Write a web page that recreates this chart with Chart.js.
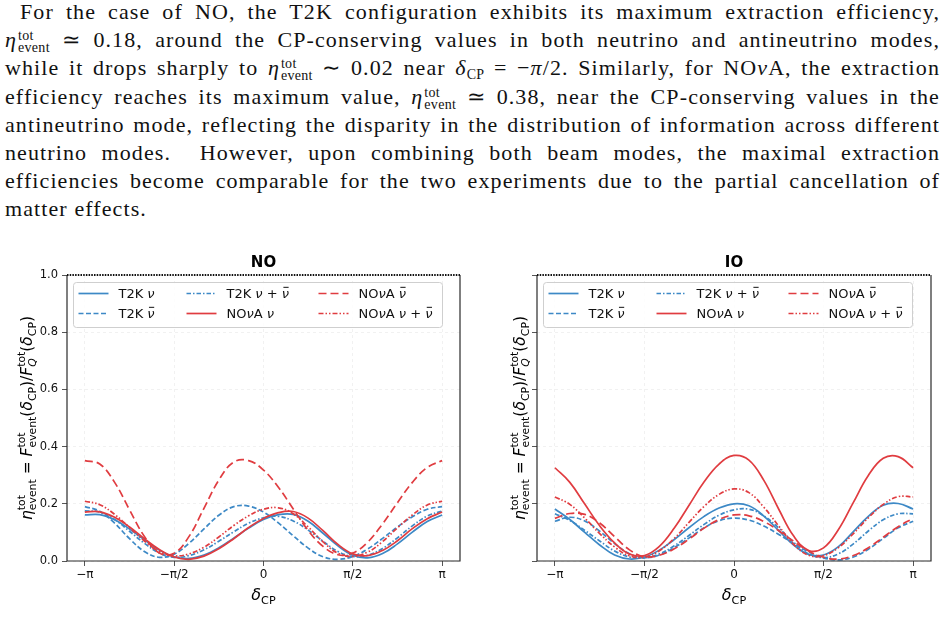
<!DOCTYPE html>
<html>
<head>
<meta charset="utf-8">
<script src="https://cdn.jsdelivr.net/npm/chart.js@4.4.0/dist/chart.umd.min.js"></script>
<style>
  html, body { margin: 0; padding: 0; background: #fff; }
  body { width: 945px; height: 642px; position: relative; overflow: hidden; }
  .tl {
    position: absolute; left: 5px; width: 935px; height: 28px; line-height: 28px;
    font-family: "Liberation Serif", serif; font-size: 22px; letter-spacing: 1.1px; color: #111;
    text-align: justify; text-align-last: justify;
  }
  .tl.first { left: 20px; width: 920px; }
  .tl.last { text-align-last: left; }
  .ss { display: inline-flex; flex-direction: column; font-size: 14px; letter-spacing: 0.3px; line-height: 12px; vertical-align: 7px; margin-left: 1px; }
  .sb { font-size: 14px; vertical-align: -4px; letter-spacing: 0.3px; }
  .panel { position: absolute; top: 240px; }
</style>
</head>
<body>

<div class="tl first" style="top:-2px">For the case of NO, the T2K configuration exhibits its maximum extraction efficiency,</div>
<div class="tl" style="top:26px"><i>η</i><span class="ss"><span>tot</span><span>event</span></span> ≃ 0.18, around the CP-conserving values in both neutrino and antineutrino modes,</div>
<div class="tl" style="top:54px">while it drops sharply to <i>η</i><span class="ss"><span>tot</span><span>event</span></span> ∼ 0.02 near <i>δ</i><span class="sb">CP</span> = −<i>π</i>/2. Similarly, for NO<i>ν</i>A, the extraction</div>
<div class="tl" style="top:83px">efficiency reaches its maximum value, <i>η</i><span class="ss"><span>tot</span><span>event</span></span> ≃ 0.38, near the CP-conserving values in the</div>
<div class="tl" style="top:111px">antineutrino mode, reflecting the disparity in the distribution of information across different</div>
<div class="tl" style="top:139px">neutrino modes. &nbsp;However, upon combining both beam modes, the maximal extraction</div>
<div class="tl" style="top:167px">efficiencies become comparable for the two experiments due to the partial cancellation of</div>
<div class="tl last" style="top:195px">matter effects.</div>

<div class="panel" style="left:0px"><canvas id="chart-no" width="472" height="372"></canvas></div>
<div class="panel" style="left:472px"><canvas id="chart-io" width="473" height="372"></canvas></div>

<script>
// delta_CP sample points (degrees)
const deltaDeg = [-180, -165, -150, -135, -120, -105, -90, -75, -60, -45, -30, -15, 0,
                  15, 30, 45, 60, 75, 90, 105, 120, 135, 150, 165, 180];

const xTicks = [-Math.PI, -Math.PI / 2, 0, Math.PI / 2, Math.PI];
const xTickLabels = ['−π', '−π/2', '0', 'π/2', 'π'];
const yTicks = [0, 0.2, 0.4, 0.6, 0.8, 1.0];

// NO
const no_t2k_nu     = [0.161, 0.162, 0.144, 0.112, 0.074, 0.038, 0.015, 0.009, 0.021, 0.046, 0.080, 0.115, 0.145,
                       0.162, 0.163, 0.139, 0.097, 0.053, 0.020, 0.011, 0.026, 0.060, 0.101, 0.138, 0.161];
const no_t2k_nubar  = [0.190, 0.174, 0.132, 0.078, 0.033, 0.013, 0.024, 0.062, 0.112, 0.160, 0.190, 0.192, 0.171,
                       0.133, 0.088, 0.045, 0.015, 0.006, 0.016, 0.042, 0.079, 0.119, 0.155, 0.181, 0.190];
const no_t2k_both   = [0.175, 0.171, 0.145, 0.104, 0.062, 0.028, 0.013, 0.019, 0.039, 0.069, 0.102, 0.132, 0.151,
                       0.156, 0.140, 0.108, 0.069, 0.033, 0.016, 0.020, 0.044, 0.081, 0.123, 0.157, 0.175];
const no_nova_nu    = [0.171, 0.172, 0.153, 0.119, 0.078, 0.040, 0.014, 0.006, 0.017, 0.043, 0.078, 0.117, 0.149,
                       0.169, 0.173, 0.150, 0.106, 0.058, 0.025, 0.019, 0.037, 0.071, 0.113, 0.148, 0.171];
const no_nova_nubar = [0.351, 0.339, 0.275, 0.179, 0.086, 0.028, 0.027, 0.086, 0.184, 0.283, 0.346, 0.351, 0.318,
                       0.258, 0.182, 0.107, 0.051, 0.022, 0.028, 0.066, 0.130, 0.204, 0.275, 0.327, 0.351];
const no_nova_both  = [0.209, 0.197, 0.163, 0.117, 0.070, 0.033, 0.018, 0.025, 0.048, 0.084, 0.124, 0.158, 0.181,
                       0.186, 0.165, 0.119, 0.067, 0.027, 0.016, 0.031, 0.068, 0.116, 0.161, 0.196, 0.209];

// IO
const io_t2k_nu     = [0.182, 0.145, 0.100, 0.056, 0.021, 0.007, 0.014, 0.038, 0.075, 0.117, 0.156, 0.185, 0.200,
                       0.193, 0.157, 0.106, 0.056, 0.023, 0.021, 0.050, 0.103, 0.156, 0.195, 0.201, 0.182];
const io_t2k_nubar  = [0.139, 0.153, 0.140, 0.104, 0.061, 0.025, 0.012, 0.021, 0.047, 0.081, 0.116, 0.141, 0.150,
                       0.143, 0.122, 0.093, 0.061, 0.032, 0.011, 0.004, 0.014, 0.041, 0.079, 0.116, 0.139];
const io_t2k_both   = [0.165, 0.142, 0.107, 0.070, 0.035, 0.014, 0.011, 0.025, 0.053, 0.090, 0.128, 0.160, 0.179,
                       0.181, 0.158, 0.115, 0.065, 0.025, 0.012, 0.025, 0.060, 0.105, 0.144, 0.165, 0.165];
const io_nova_nu    = [0.326, 0.275, 0.199, 0.123, 0.063, 0.024, 0.019, 0.051, 0.115, 0.196, 0.277, 0.339, 0.369,
                       0.353, 0.282, 0.181, 0.087, 0.037, 0.046, 0.110, 0.205, 0.299, 0.359, 0.365, 0.326];
const io_nova_nubar = [0.149, 0.166, 0.163, 0.133, 0.085, 0.039, 0.015, 0.020, 0.043, 0.077, 0.115, 0.145, 0.161,
                       0.158, 0.138, 0.106, 0.069, 0.035, 0.013, 0.007, 0.019, 0.046, 0.083, 0.120, 0.149];
const io_nova_both  = [0.224, 0.198, 0.150, 0.096, 0.049, 0.018, 0.013, 0.036, 0.079, 0.136, 0.191, 0.233, 0.252,
                       0.239, 0.188, 0.122, 0.058, 0.020, 0.019, 0.047, 0.096, 0.151, 0.198, 0.225, 0.224];

const BLUE = '#3d89c6';
const RED = '#e03c40';
const FONT = '"DejaVu Sans", sans-serif';

// line styles, in matplotlib plot order
const styles = [
  { color: BLUE, dash: [], label: [{t: 'T2K '}, {t: 'ν', it: 1}] },
  { color: BLUE, dash: [5, 2.5], label: [{t: 'T2K '}, {t: 'ν', it: 1, bar: 1}] },
  { color: BLUE, dash: [4.5, 2, 1.5, 2], label: [{t: 'T2K '}, {t: 'ν', it: 1}, {t: ' + '}, {t: 'ν', it: 1, bar: 1}] },
  { color: RED, dash: [], label: [{t: 'NO'}, {t: 'ν', it: 1}, {t: 'A '}, {t: 'ν', it: 1}] },
  { color: RED, dash: [8, 4], label: [{t: 'NO'}, {t: 'ν', it: 1}, {t: 'A '}, {t: 'ν', it: 1, bar: 1}] },
  { color: RED, dash: [5, 2, 1.5, 2, 1.5, 2], label: [{t: 'NO'}, {t: 'ν', it: 1}, {t: 'A '}, {t: 'ν', it: 1}, {t: ' + '}, {t: 'ν', it: 1, bar: 1}] }
];

// small rich-text writer for mathtext-like labels
function drawRich(ctx, parts, x, y, size, dry) {
  let cx = x;
  const small = size * 0.7;
  parts.forEach(function(p) {
    ctx.font = (p.it ? 'italic ' : '') + (p.bold ? 'bold ' : '') + size + 'px ' + FONT;
    const w = ctx.measureText(p.t).width;
    if (!dry) ctx.fillText(p.t, cx, y);
    if (p.bar && !dry) ctx.fillRect(cx + w * 0.22, y - size * 0.86, w * 0.72, Math.max(1, size * 0.07));
    cx += w;
    let sw = 0;
    if (p.sup) {
      ctx.font = small + 'px ' + FONT;
      sw = ctx.measureText(p.sup).width;
      if (!dry) ctx.fillText(p.sup, cx, y - size * 0.45);
    }
    if (p.sub) {
      ctx.font = (p.subIt ? 'italic ' : '') + small + 'px ' + FONT;
      const bw = ctx.measureText(p.sub).width;
      if (!dry) ctx.fillText(p.sub, cx, y + size * 0.24);
      sw = Math.max(sw, bw);
    }
    cx += sw;
  });
  return cx - x;
}

const yLabelParts = [
  {t: 'η', it: 1, sup: 'tot', sub: 'event'}, {t: ' = '},
  {t: 'F', it: 1, sup: 'tot', sub: 'event'}, {t: '('}, {t: 'δ', it: 1, sub: 'CP'}, {t: ')/'},
  {t: 'F', it: 1, sup: 'tot', sub: 'Q', subIt: 1}, {t: '('}, {t: 'δ', it: 1, sub: 'CP'}, {t: ')'}
];
const xLabelParts = [{t: 'δ', it: 1, sub: 'CP'}];

// legend drawn column-wise like matplotlib (ncol=3)
const legendCols = [[0, 1], [2, 3], [4, 5]];

const decor = {
  id: 'decor',
  afterDatasetsDraw(chart, args, opts) {
    const ctx = chart.ctx, a = chart.chartArea;
    ctx.save();
    // spines
    ctx.strokeStyle = '#2b2b2b';
    ctx.lineWidth = 1.2;
    ctx.beginPath();
    ctx.moveTo(a.left, a.top); ctx.lineTo(a.left, a.bottom);
    ctx.lineTo(a.right, a.bottom); ctx.lineTo(a.right, a.top);
    ctx.stroke();
    ctx.setLineDash([1.5, 1.2]);
    ctx.strokeStyle = '#111';
    ctx.lineWidth = 2;
    ctx.beginPath(); ctx.moveTo(a.left, a.top); ctx.lineTo(a.right, a.top); ctx.stroke();
    ctx.setLineDash([]);

    // legend
    const bx = a.left + 6.5, by = a.top + 7.5, bw = 369, bh = 45;
    ctx.fillStyle = 'rgba(255,255,255,0.85)';
    ctx.strokeStyle = '#cfcfcf';
    ctx.lineWidth = 1;
    ctx.beginPath();
    ctx.roundRect(bx, by, bw, bh, 3);
    ctx.fill(); ctx.stroke();
    const colX = [5, 113, 245];
    legendCols.forEach(function(col, ci) {
      col.forEach(function(si, ri) {
        const s = styles[si];
        const ly = by + 11 + ri * 20;
        ctx.strokeStyle = s.color;
        ctx.lineWidth = 1.7;
        ctx.setLineDash(s.dash);
        ctx.beginPath();
        ctx.moveTo(bx + colX[ci], ly); ctx.lineTo(bx + colX[ci] + 30, ly);
        ctx.stroke();
        ctx.setLineDash([]);
        ctx.fillStyle = '#111';
        ctx.textBaseline = 'alphabetic';
        drawRich(ctx, s.label, bx + colX[ci] + 40, ly + 4.5, 13);
      });
    });

    // title
    ctx.fillStyle = '#000';
    ctx.font = 'bold 15px ' + FONT;
    ctx.textAlign = 'center';
    ctx.fillText(opts.title, (a.left + a.right) / 2, a.top - 8);
    ctx.textAlign = 'left';

    // x label
    const xw = drawRich(ctx, xLabelParts, 0, 0, 16, true);
    drawRich(ctx, xLabelParts, (a.left + a.right) / 2 - xw / 2, a.bottom + 39, 16);

    // y label
    ctx.save();
    ctx.translate(opts.yLabelX, (a.top + a.bottom) / 2);
    ctx.rotate(-Math.PI / 2);
    const yw = drawRich(ctx, yLabelParts, 0, 0, 15.5, true);
    drawRich(ctx, yLabelParts, -yw / 2, 5, 15.5);
    ctx.restore();
    ctx.restore();
  }
};

function makeChart(id, series, title, yAxisWidth, rightPad, showYLabels, yLabelX) {
  const datasets = series.map(function(vals, i) {
    return {
      data: vals.map(function(v, j) { return {x: deltaDeg[j] * Math.PI / 180, y: v}; }),
      borderColor: styles[i].color,
      borderDash: styles[i].dash,
      borderWidth: 1.7,
      pointRadius: 0,
      tension: 0.4,
      fill: false,
      order: series.length - i
    };
  });
  return new Chart(document.getElementById(id), {
    type: 'line',
    data: { datasets: datasets },
    plugins: [decor],
    options: {
      responsive: false,
      animation: false,
      devicePixelRatio: 1,
      layout: { padding: { top: 35, right: rightPad, left: 0, bottom: 0 } },
      plugins: {
        legend: { display: false },
        tooltip: { enabled: false },
        decor: { title: title, yLabelX: yLabelX }
      },
      scales: {
        x: {
          type: 'linear',
          min: -1.1 * Math.PI,
          max: 1.1 * Math.PI,
          afterBuildTicks: function(s) { s.ticks = xTicks.map(function(v) { return {value: v}; }); },
          afterFit: function(s) { s.height = 51; },
          ticks: {
            color: '#111',
            font: { family: FONT, size: 12 },
            padding: 2,
            maxRotation: 0,
            autoSkip: false,
            callback: function(v) {
              const k = xTicks.findIndex(function(t) { return Math.abs(t - v) < 1e-6; });
              return k >= 0 ? xTickLabels[k] : '';
            }
          },
          grid: { color: 'rgba(0,0,0,0.07)', tickColor: '#2b2b2b', tickLength: 5, lineWidth: 0.8 },
          border: { display: false, dash: [3, 3] }
        },
        y: {
          min: 0,
          max: 1,
          afterBuildTicks: function(s) { s.ticks = yTicks.map(function(v) { return {value: v}; }); },
          afterFit: function(s) { s.width = yAxisWidth; },
          ticks: {
            color: '#111',
            font: { family: FONT, size: 11.5 },
            padding: 4,
            autoSkip: false,
            callback: function(v) { return showYLabels ? v.toFixed(1) : ''; }
          },
          grid: { color: 'rgba(0,0,0,0.07)', tickColor: '#2b2b2b', tickLength: 5, lineWidth: 0.8 },
          border: { display: false, dash: [3, 3] }
        }
      }
    }
  });
}

makeChart('chart-no',
  [no_t2k_nu, no_t2k_nubar, no_t2k_both, no_nova_nu, no_nova_nubar, no_nova_both],
  'NO', 67, 12, true, 27);

makeChart('chart-io',
  [io_t2k_nu, io_t2k_nubar, io_t2k_both, io_nova_nu, io_nova_nubar, io_nova_both],
  'IO', 65, 14, false, 48);
</script>
</body>
</html>
